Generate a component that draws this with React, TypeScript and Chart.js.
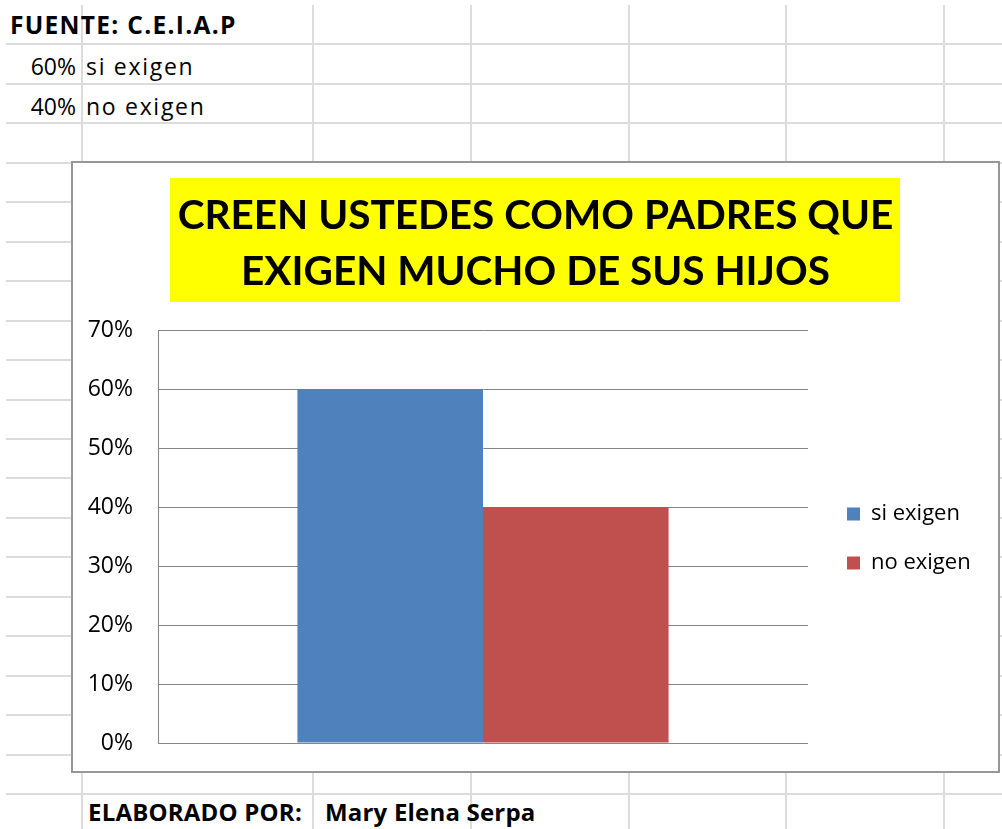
import React, { useEffect, useRef } from "react";
import { Chart, registerables } from "chart.js";

Chart.register(...registerables);

// ---- data ----
const categories: string[] = [""];
const seriesNames: string[] = ["si exigen", "no exigen"];
const seriesValues: number[] = [60, 40];
const seriesColors: string[] = ["#4F81BD", "#C0504D"];
const yTicks: number[] = [0, 10, 20, 30, 40, 50, 60, 70];
const titleLines: string[] = ["CREEN USTEDES COMO PADRES QUE", "EXIGEN MUCHO DE SUS HIJOS"];
const sourceLabel = "FUENTE: C.E.I.A.P";
const authorLabel = "ELABORADO POR:";
const authorName = "Mary Elena Serpa";

// ---- layout constants ----
const CANVAS_W = 925;
const CANVAS_H = 608;
const TITLE_SIZE = 40.5;
const TITLE_LH = 56;
const TITLE_PAD_TOP = 25;
const TITLE_PAD_BOTTOM = 30;
const TICK_SIZE = 23;
const TICK_GAP = 25;
const LEG_SIZE = 22;
const LEG_BOX = 13;
const LEG_PAD = 27;
const LEG_SHIFT = 12;
const LEG_SHIFT_Y = 2;
const PLOT_LEFT = 85;
const PLOT_RIGHT = 735;
const FONT = "Lato, 'Open Sans', sans-serif";
const FONT2 = "'Open Sans', Lato, sans-serif";

const titleBgPlugin = {
  id: "titleBg",
  beforeDraw(chart: any) {
    const t = chart.titleBlock;
    if (!t) return;
    const ctx = chart.ctx;
    ctx.save();
    ctx.font = `bold ${TITLE_SIZE}px ${FONT}`;
    const w = Math.max(...titleLines.map((l) => ctx.measureText(l).width));
    const cx = (t.left + t.right) / 2;
    const top = t.top + TITLE_PAD_TOP - 10;
    const bottom = t.top + TITLE_PAD_TOP + TITLE_LH * titleLines.length + 2;
    ctx.fillStyle = "#FFFF00";
    ctx.fillRect(Math.round(cx - w / 2 - 8), top, Math.round(w + 14), bottom - top);
    ctx.restore();
  },
};

const layoutTweakPlugin = {
  id: "layoutTweak",
  afterLayout(chart: any) {
    const lg = chart.legend;
    if (lg) {
      lg.left += LEG_SHIFT;
      lg.right += LEG_SHIFT;
      lg.top += LEG_SHIFT_Y;
      lg.bottom += LEG_SHIFT_Y;
    }
    const t = chart.titleBlock;
    if (t) {
      t.left = 0;
      t.right = chart.width;
      t.width = chart.width;
    }
  },
};

function ChartBox() {
  const ref = useRef<HTMLCanvasElement | null>(null);
  useEffect(() => {
    if (!ref.current) return;
    const m = document.createElement("canvas").getContext("2d")!;
    m.font = `${LEG_SIZE}px ${FONT2}`;
    const textW = Math.max(...seriesNames.map((s) => m.measureText(s).width));
    const legendW = LEG_PAD + LEG_BOX + LEG_SIZE / 2 + textW + 10;
    const padRight = Math.max(0, CANVAS_W - PLOT_RIGHT - legendW);

    const chart = new Chart(ref.current, {
      type: "bar",
      data: {
        labels: categories,
        datasets: seriesNames.map((name, i) => ({
          label: name,
          data: [seriesValues[i]],
          backgroundColor: seriesColors[i],
          borderWidth: 0,
          categoryPercentage: 0.571,
          barPercentage: 1,
        })),
      },
      options: {
        responsive: false,
        animation: false,
        devicePixelRatio: 1,
        layout: { padding: { left: 0, right: padRight, top: 0, bottom: 28 } },
        plugins: {
          title: {
            display: true,
            text: titleLines,
            color: "#000",
            font: { family: FONT, size: TITLE_SIZE, weight: "bold", lineHeight: TITLE_LH / TITLE_SIZE },
            padding: { top: TITLE_PAD_TOP, bottom: TITLE_PAD_BOTTOM },
          },
          legend: {
            display: true,
            position: "right",
            fullSize: false,
            labels: {
              boxWidth: LEG_BOX,
              boxHeight: LEG_BOX,
              padding: LEG_PAD,
              color: "#000",
              font: { family: FONT2, size: LEG_SIZE },
            },
          },
          tooltip: { enabled: false },
        },
        scales: {
          x: { display: false },
          y: {
            min: yTicks[0],
            max: yTicks[yTicks.length - 1],
            afterFit(scale: any) {
              scale.width = PLOT_LEFT;
            },
            afterBuildTicks(scale: any) {
              scale.ticks = yTicks.map((v) => ({ value: v }));
            },
            ticks: {
              padding: 0,
              color: "#000",
              font: { family: FONT2, size: TICK_SIZE },
              callback: (v: any) => `${v}%`,
            },
            grid: {
              color: "#868686",
              lineWidth: 1,
              drawTicks: true,
              tickLength: TICK_GAP,
              tickColor: "rgba(0,0,0,0)",
            },
            border: { display: true, color: "#868686", width: 1 },
          },
        },
      },
      plugins: [titleBgPlugin, layoutTweakPlugin],
    });
    return () => chart.destroy();
  }, []);
  return <canvas ref={ref} width={CANVAS_W} height={CANVAS_H} style={{ display: "block", width: CANVAS_W, height: CANVAS_H }} />;
}

export default function App() {
  const rowLines: number[] = [];
  for (let k = 1; k <= 21; k++) rowLines.push(5 + 39.45 * k);
  const colLines = [81.5, 313, 471, 628.5, 786, 943.5];
  const cellFont = { fontFamily: FONT2, fontSize: 23, color: "#000", position: "absolute" as const, lineHeight: "1", whiteSpace: "nowrap" as const };
  return (
    <div style={{ position: "absolute", left: 0, top: 0, width: 1002, height: 829, background: "#fff", overflow: "hidden" }}>
      {rowLines.map((y, i) => (
        <div key={"r" + i} style={{ position: "absolute", left: 6, top: Math.round(y - 1), width: 1002, height: 2, background: "#dcdcdc" }} />
      ))}
      {colLines.map((x, i) => (
        <div key={"c" + i} style={{ position: "absolute", left: Math.round(x - 1), top: 5, width: 2, height: 829, background: "#dcdcdc" }} />
      ))}
      <div style={{ ...cellFont, left: 10, top: 13, fontWeight: "bold", fontSize: 24.5, letterSpacing: 1.3 }}>{sourceLabel}</div>
      <div style={{ ...cellFont, left: 0, width: 76, textAlign: "right", top: 55 }}>{seriesValues[0]}%</div>
      <div style={{ ...cellFont, left: 86, top: 55, letterSpacing: 1.7 }}>{seriesNames[0]}</div>
      <div style={{ ...cellFont, left: 0, width: 76, textAlign: "right", top: 95 }}>{seriesValues[1]}%</div>
      <div style={{ ...cellFont, left: 86, top: 95, letterSpacing: 1.7 }}>{seriesNames[1]}</div>
      <div style={{ ...cellFont, left: 88, top: 800, fontWeight: "bold", fontSize: 24, letterSpacing: 0.2 }}>{authorLabel}</div>
      <div style={{ ...cellFont, left: 325, top: 800, fontWeight: "bold", fontSize: 24, letterSpacing: 0.2 }}>{authorName}</div>
      <div
        style={{
          position: "absolute",
          left: 71,
          top: 161,
          width: CANVAS_W,
          height: CANVAS_H,
          border: "2px solid #979797",
          background: "#fff",
        }}
      >
        <ChartBox />
      </div>
    </div>
  );
}
